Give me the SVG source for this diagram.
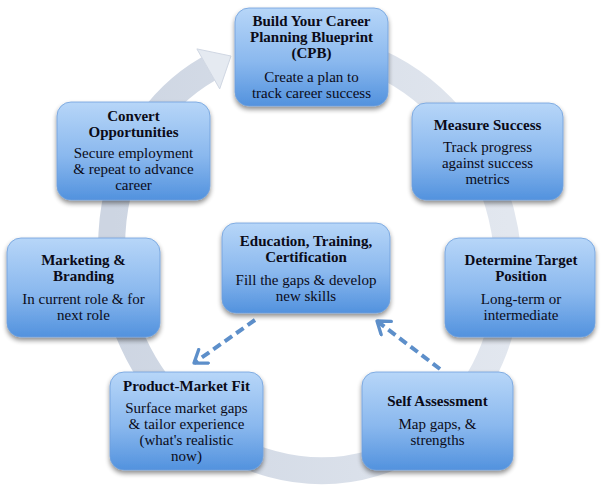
<svg xmlns="http://www.w3.org/2000/svg" width="603" height="489" viewBox="0 0 603 489">
<defs>
<linearGradient id="bg" x1="0" y1="0" x2="0" y2="1">
<stop offset="0" stop-color="#b7d6f8"/>
<stop offset="0.55" stop-color="#8ab8ee"/>
<stop offset="1" stop-color="#5292de"/>
</linearGradient>
<linearGradient id="ringg" x1="0" y1="0" x2="1" y2="0">
<stop offset="0" stop-color="#cdd5e2"/>
<stop offset="1" stop-color="#e2e7ef"/>
</linearGradient>
<filter id="sh" x="-20%" y="-20%" width="140%" height="150%">
<feGaussianBlur in="SourceAlpha" stdDeviation="2.5"/>
<feOffset dx="0" dy="3" result="b"/>
<feComponentTransfer><feFuncA type="linear" slope="0.45"/></feComponentTransfer>
<feMerge><feMergeNode/><feMergeNode in="SourceGraphic"/></feMerge>
</filter>
<marker id="ah" viewBox="0 0 12 12" refX="9" refY="6" markerWidth="5" markerHeight="5" orient="auto" markerUnits="strokeWidth">
<path d="M2,1 L9,6 L2,11" fill="none" stroke="#5d8fca" stroke-width="2" stroke-linecap="round" stroke-linejoin="round"/>
</marker>
<style>
.box{fill:url(#bg);stroke:#6f9fdc;stroke-width:0.8;filter:url(#sh)}
.t{font-family:"Liberation Serif","Times New Roman",serif;font-size:15px;font-weight:bold;fill:#0b0b18;text-anchor:middle}
.b{font-family:"Liberation Serif","Times New Roman",serif;font-size:15px;fill:#0b0b18;text-anchor:middle}
.dash{fill:none;stroke:#5d8fca;stroke-width:4;stroke-dasharray:9,5}
</style>
</defs>
<rect width="603" height="489" fill="#ffffff"/>
<g id="ring">
<path d="M 287.1 45.3 A 196 215 -20 1 1 208.3 68.9" fill="none" stroke="url(#ringg)" stroke-width="27"/>
<polygon points="196.9,48.9 231,56 219.7,88.9" fill="#e5eaf1" stroke="#d0d7e3" stroke-width="1" stroke-linejoin="round"/>
</g>
<g id="connectors">
<path class="dash" d="M 255 320 L 194 363" marker-end="url(#ah)"/>
<path class="dash" d="M 440 369 L 377 321" marker-end="url(#ah)"/>
</g>
<g id="n1">
<rect class="box" x="235" y="8" width="153" height="98" rx="14"/>
<text class="t" x="311.5" y="26">Build Your Career</text>
<text class="t" x="311.5" y="42">Planning Blueprint</text>
<text class="t" x="311.5" y="58">(CPB)</text>
<text class="b" x="311.5" y="82">Create a plan to</text>
<text class="b" x="311.5" y="98">track career success</text>
</g>
<g id="n2">
<rect class="box" x="412" y="103" width="151" height="97" rx="14"/>
<text class="t" x="487.5" y="130">Measure Success</text>
<text class="b" x="487.5" y="152">Track progress</text>
<text class="b" x="487.5" y="168">against success</text>
<text class="b" x="487.5" y="184">metrics</text>
</g>
<g id="n3">
<rect class="box" x="445" y="238" width="150" height="99" rx="14"/>
<text class="t" x="521" y="265">Determine Target</text>
<text class="t" x="521" y="281">Position</text>
<text class="b" x="521" y="304">Long-term or</text>
<text class="b" x="521" y="320">intermediate</text>
</g>
<g id="n4">
<rect class="box" x="362" y="372" width="151" height="98" rx="14"/>
<text class="t" x="437.5" y="406">Self Assessment</text>
<text class="b" x="437.5" y="429">Map gaps, &amp;</text>
<text class="b" x="437.5" y="445">strengths</text>
</g>
<g id="n5">
<rect class="box" x="110" y="372" width="153" height="98" rx="14"/>
<text class="t" x="186.5" y="391">Product-Market Fit</text>
<text class="b" x="186.5" y="413">Surface market gaps</text>
<text class="b" x="186.5" y="429">&amp; tailor experience</text>
<text class="b" x="186.5" y="445">(what's realistic</text>
<text class="b" x="186.5" y="461">now)</text>
</g>
<g id="n6">
<rect class="box" x="7" y="238" width="153" height="99" rx="14"/>
<text class="t" x="83.5" y="265">Marketing &amp;</text>
<text class="t" x="83.5" y="281">Branding</text>
<text class="b" x="83.5" y="304">In current role &amp; for</text>
<text class="b" x="83.5" y="320">next role</text>
</g>
<g id="n7">
<rect class="box" x="57" y="102" width="153" height="98" rx="14"/>
<text class="t" x="133.5" y="121">Convert</text>
<text class="t" x="133.5" y="137">Opportunities</text>
<text class="b" x="133.5" y="158">Secure employment</text>
<text class="b" x="133.5" y="174">&amp; repeat to advance</text>
<text class="b" x="133.5" y="190">career</text>
</g>
<g id="n8">
<rect class="box" x="222" y="223" width="168" height="90" rx="14"/>
<text class="t" x="306" y="246">Education, Training,</text>
<text class="t" x="306" y="262">Certification</text>
<text class="b" x="306" y="285">Fill the gaps &amp; develop</text>
<text class="b" x="306" y="301">new skills</text>
</g>
</svg>
